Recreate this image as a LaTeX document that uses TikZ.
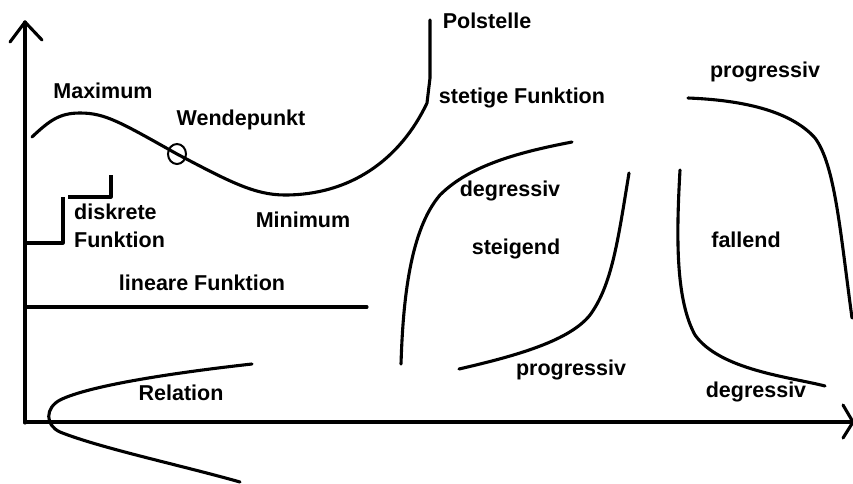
\documentclass[tikz,border=0pt]{standalone}
\usepackage{fontspec}
\setmainfont{Liberation Sans}
\begin{document}
\begin{tikzpicture}[x=1pt,y=-1pt,
  curve/.style={line width=3.1pt,line join=round,line cap=round},
  axis/.style={line width=3.1pt,line cap=round,line join=round},
  lbl/.style={inner sep=0pt,font=\fontsize{21.5}{28}\selectfont\bfseries}]
\useasboundingbox[fill=white] (0,0) rectangle (853,483);
% axes
\coordinate (O) at (25,422);
\coordinate (ytip) at (25,22);
\coordinate (xtip) at (853,422);
\draw[axis] (25,423) -- (ytip);
\draw[axis] (10,42) -- (ytip) -- (42,40);
\draw[axis] (O) -- (xtip);
\draw[axis] (843,405) -- (xtip) -- (843,438);
% sine curve to Polstelle
\draw[curve] (32,137) .. controls (50,120) and (60,113) .. (80,113)
  .. controls (105,113) and (120,122) .. (177,154)
  .. controls (230,182) and (255,195) .. (285,195)
  .. controls (350,195) and (400,160) .. (427,103)
  -- (430,78) -- (430,20);
\draw[line width=2pt] (177,154) ellipse [x radius=9, y radius=10];
% discrete function
\draw[curve,line cap=butt] (25,243) -- (63,243) -- (63,197);
\draw[curve,line cap=butt] (68,197) -- (111,197) -- (111,175);
% linear
\draw[curve] (25,307) -- (367,307);
% relation
\draw[curve] (252,364) .. controls (180,372) and (90,385) .. (60,400)
  .. controls (45,408) and (45,425) .. (60,432)
  .. controls (100,448) and (180,465) .. (240,482);
% steigend degressiv
\draw[curve] (401,364) .. controls (403,300) and (410,230) .. (440,195)
  .. controls (470,165) and (520,152) .. (572,142);
% steigend progressiv
\draw[curve] (459,369) .. controls (520,355) and (570,340) .. (590,315)
  .. controls (612,285) and (618,240) .. (629,173);
% fallend degressiv
\draw[curve] (680,170) .. controls (676,240) and (676,300) .. (695,335)
  .. controls (720,370) and (790,377) .. (825,386);
% fallend progressiv
\draw[curve] (688,98) .. controls (740,100) and (790,110) .. (815,138)
  .. controls (835,165) and (840,230) .. (852,318);
% labels
\node[lbl] (max) at (103,91) {Maximum};
\node[lbl] (wp) at (241,120) {Wendepunkt};
\node[lbl,align=left,anchor=north west] (disk) at (74,204) {diskrete\\Funktion};
\node[lbl] (min) at (303,220) {Minimum};
\node[lbl] (pol) at (487,21) {Polstelle};
\node[lbl] (stet) at (522,98) {stetige Funktion};
\node[lbl] (prog1) at (765,72) {progressiv};
\node[lbl] (deg1) at (510,191) {degressiv};
\node[lbl] (steig) at (516,249) {steigend};
\node[lbl] (fall) at (746,240) {fallend};
\node[lbl] (prog2) at (571,370) {progressiv};
\node[lbl] (deg2) at (756,392) {degressiv};
\node[lbl] (lin) at (202,283) {lineare Funktion};
\node[lbl] (rel) at (181,393) {Relation};
\end{tikzpicture}
\end{document}
